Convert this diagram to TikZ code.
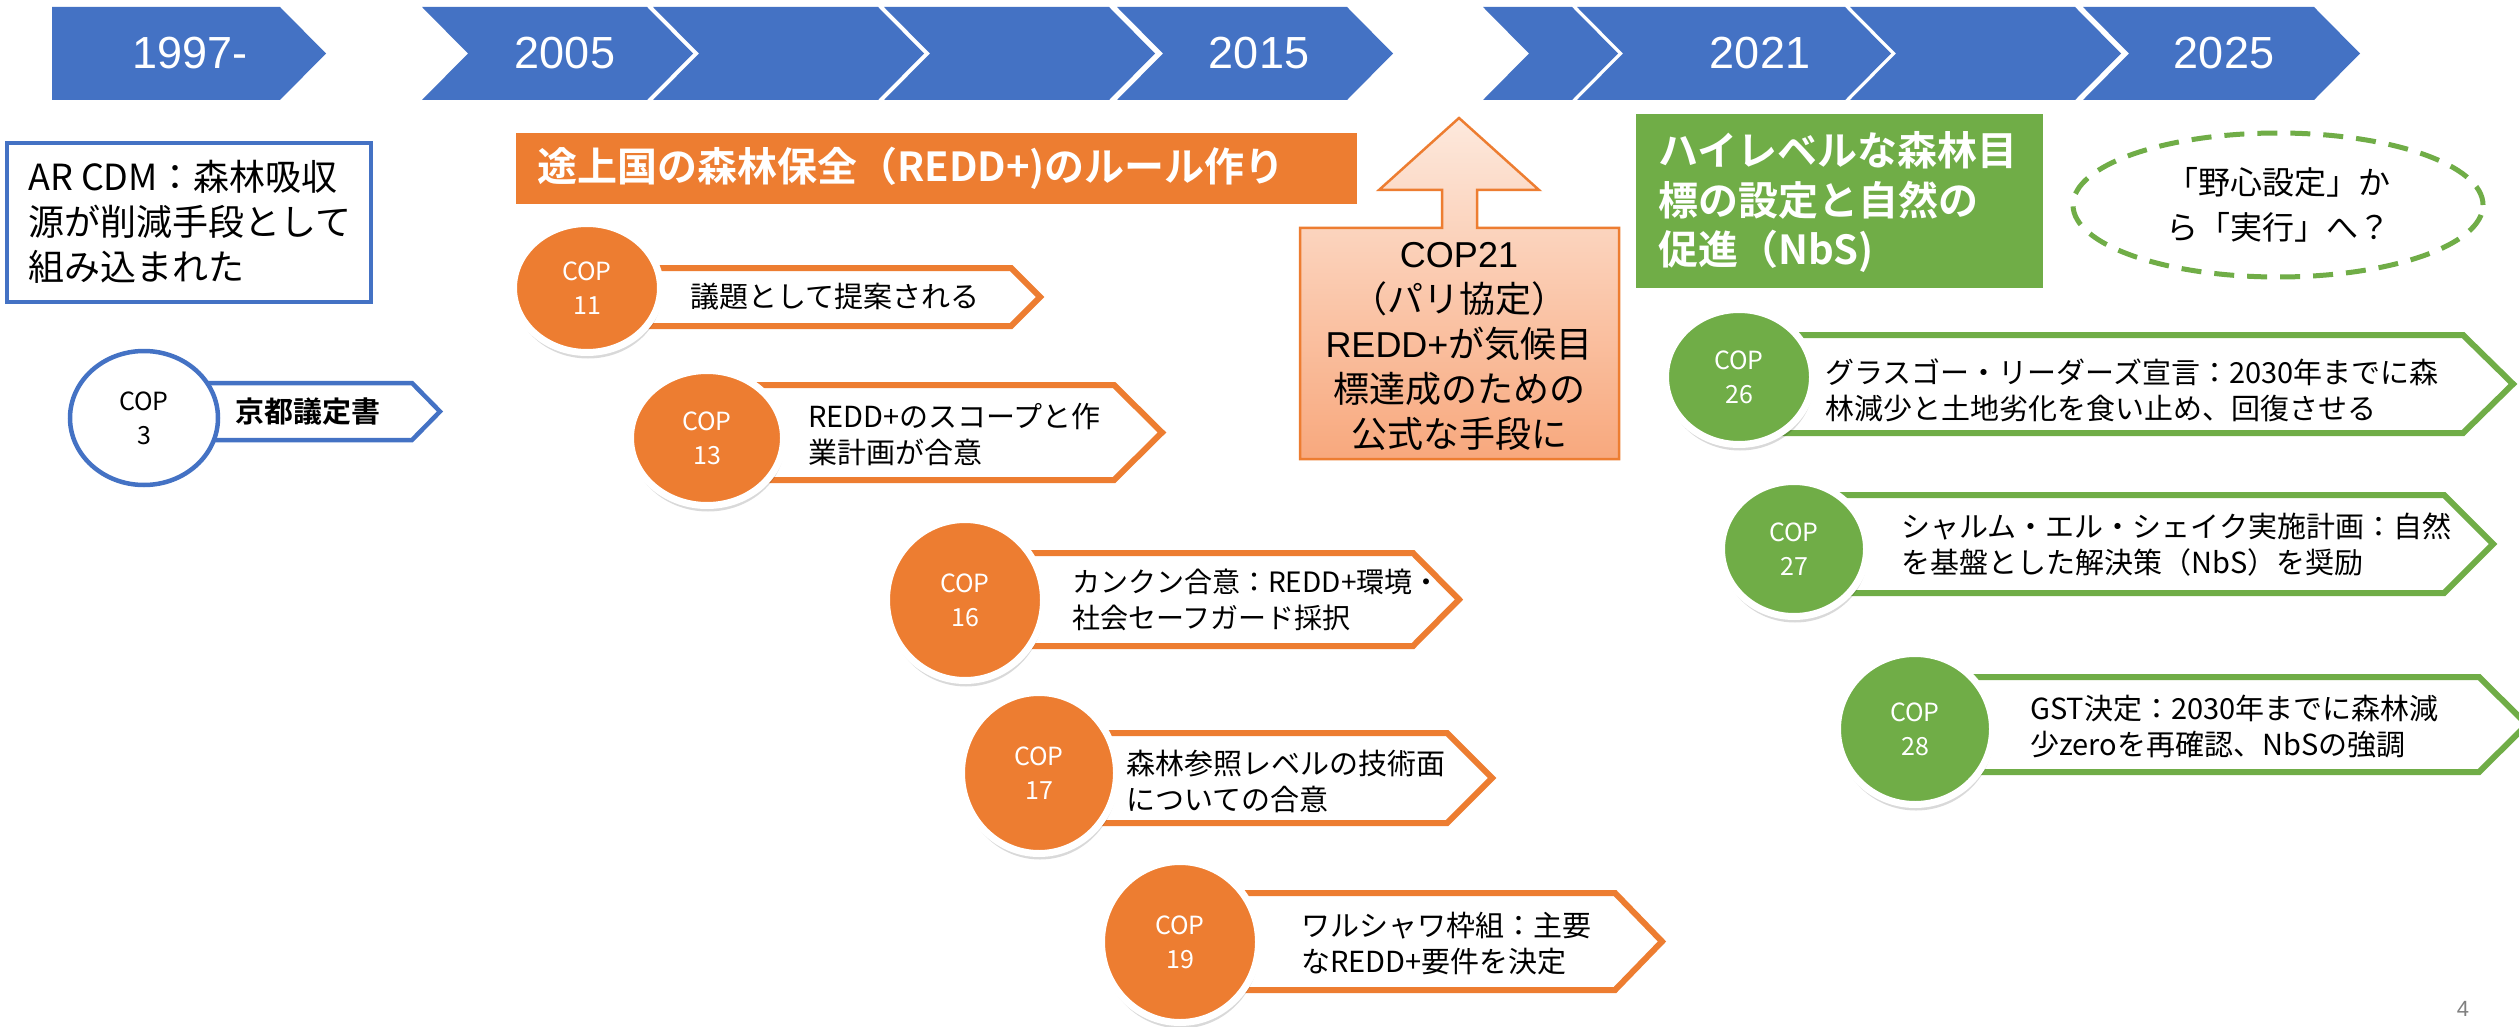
\documentclass[tikz,border=0pt]{standalone}
\usepackage{fontspec}
\setmainfont{Noto Sans CJK JP}[BoldFont={Noto Sans CJK JP Bold}]
\newfontfamily\lat{Liberation Sans}
\usetikzlibrary{shapes.geometric,shadows}
\definecolor{myblue}{HTML}{4472C4}
\definecolor{myorange}{HTML}{ED7D31}
\definecolor{mygreen}{HTML}{70AD47}
\definecolor{peachtop}{RGB}{253,233,221}
\definecolor{peachbot}{RGB}{248,168,125}
\newcommand\mychev[2]{\fill[myblue] (#1,7) -- (#2,7) -- ({#2+46},53.5) -- (#2,100) -- (#1,100) -- ({#1+46},53.5) -- cycle;}
\tikzset{
  yr/.style={text=white, font=\lat\fontsize{45}{54}\selectfont, inner sep=0pt},
  cshadow/.style={drop shadow={shadow xshift=1pt, shadow yshift=-6pt, opacity=0.15, fill=black}},
  ocirc/.style={ellipse, fill=myorange, draw=white, line width=7pt, text=white, font=\fontsize{25}{34}\selectfont, align=center, inner sep=0pt, cshadow},
  gcirc/.style={ellipse, fill=mygreen, draw=white, line width=7pt, text=white, font=\fontsize{25}{34}\selectfont, align=center, inner sep=0pt, cshadow},
  oarr/.style={fill=white, draw=myorange, line width=6pt, line join=miter},
  garr/.style={fill=white, draw=mygreen, line width=6pt, line join=miter},
  atext/.style={anchor=west, align=left, font=\fontsize{29}{36}\selectfont, inner sep=0pt},
}
\begin{document}
\begin{tikzpicture}[x=1pt,y=-1pt]
\fill[white] (0,0) rectangle (2519,1027);
\useasboundingbox (0,0) rectangle (2519,1027);

% timeline chevrons
\fill[myblue] (52,7) -- (280,7) -- (326,53.5) -- (280,100) -- (52,100) -- cycle;
\mychev{422}{647}
\mychev{653}{878}
\mychev{884}{1109}
\mychev{1117}{1347}
\mychev{1483}{1572}
\mychev{1577}{1845}
\mychev{1850}{2075}
\mychev{2083}{2314}
\node[yr] (y1997) at (190,53.5) {1997-};
\node[yr] (y2005) at (565,53.5) {2005};
\node[yr] (y2015) at (1259,53.5) {2015};
\node[yr] (y2021) at (1760,53.5) {2021};
\node[yr] (y2025) at (2224,53.5) {2025};

% left box
\draw[myblue, line width=4.5pt] (7,143) rectangle (371,302);
\node[anchor=west, align=left, inner sep=0pt, font=\fontsize{36}{45}\selectfont] (ardm) at (28,222)
  {AR CDM：森林吸収\\源が削減手段として\\組み込まれた};

% COP3
\draw[fill=white, draw=myblue, line width=4.5pt, line join=miter] (150,383) -- (412,383) -- (440,411.5) -- (412,440) -- (150,440) -- cycle;
\node[ellipse, fill=white, draw=myblue, line width=4.5pt, minimum width=148pt, minimum height=134pt, inner sep=0pt, align=center, font=\fontsize{25}{34}\selectfont] (cop3) at (144,418) {COP\\3};
\node[atext, font=\bfseries\fontsize{29}{36}\selectfont] (t3) at (235,412) {京都議定書};

% orange heading
\fill[myorange] (516,133) rectangle (1357,204);
\node[anchor=west, inner sep=0pt, text=white, font=\bfseries\fontsize{40}{50}\selectfont] (redd) at (537,168.5) {途上国の森林保全（REDD+)のルール作り};

% orange items
\draw[oarr] (587,268) -- (1011,268) -- (1040,297) -- (1011,326) -- (587,326) -- cycle;
\node[ocirc, minimum width=147pt, minimum height=129pt] (cop11) at (587,288) {COP\\11};
\node[atext] (t11) at (690,297) {議題として提案される};

\draw[oarr] (707,385) -- (1114,385) -- (1162,432.5) -- (1114,480) -- (707,480) -- cycle;
\node[ocirc, minimum width=153pt, minimum height=135pt] (cop13) at (707,438) {COP\\13};
\node[atext] (t13) at (808,435) {REDD+のスコープと作\\業計画が合意};

\draw[oarr] (965,553) -- (1413,553) -- (1459,599.5) -- (1413,646) -- (965,646) -- cycle;
\node[ocirc, minimum width=157pt, minimum height=161pt] (cop16) at (965,600) {COP\\16};
\node[atext, font=\fontsize{28}{36}\selectfont] (t16) at (1072,600) {カンクン合意：REDD+環境・\\社会セーフガード採択};

\draw[oarr] (1039,733) -- (1447,733) -- (1492,778) -- (1447,823) -- (1039,823) -- cycle;
\node[ocirc, minimum width=155pt, minimum height=161pt] (cop17) at (1039,773) {COP\\17};
\node[atext] (t17) at (1126,781) {森林参照レベルの技術面\\についての合意};

\draw[oarr] (1180,893) -- (1615,893) -- (1662,941.5) -- (1615,990) -- (1180,990) -- cycle;
\node[ocirc, minimum width=157pt, minimum height=161pt] (cop19) at (1180,942) {COP\\19};
\node[atext] (t19) at (1301,944) {ワルシャワ枠組：主要\\なREDD+要件を決定};

% COP21 callout
\draw[top color=peachtop, bottom color=peachbot, draw=myorange, line width=2.5pt, line join=miter]
  (1300,228) -- (1442,228) -- (1442,190) -- (1379,190) -- (1459,118) -- (1539,190) -- (1477,190) -- (1477,228)
  -- (1619,228) -- (1619,459) -- (1300,459) -- cycle;
\node[align=center, inner sep=0pt, font=\fontsize{36}{45}\selectfont] (cop21) at (1459,346)
  {{\lat COP21}\\（パリ協定）\\{\lat REDD+}が気候目\\標達成のための\\公式な手段に};

% green heading
\fill[mygreen] (1636,114) rectangle (2043,288);
\node[anchor=west, align=left, inner sep=0pt, text=white, font=\bfseries\fontsize{40}{50}\selectfont] (nbs) at (1658,202)
  {ハイレベルな森林目\\標の設定と自然の\\促進（NbS)};

% dashed ellipse
\node[ellipse, draw=mygreen, line width=5pt, dash pattern=on 20pt off 13pt, minimum width=410pt, minimum height=144pt, inner sep=0pt, align=center, font=\fontsize{32}{45}\selectfont] (goal) at (2278,205)
  {「野心設定」か\\ら「実行」へ？};

% green items
\draw[garr] (1739,335) -- (2463,335) -- (2513,384) -- (2463,433) -- (1739,433) -- cycle;
\node[gcirc, minimum width=147pt, minimum height=135pt] (cop26) at (1739,377) {COP\\26};
\node[atext] (t26) at (1825,390) {グラスゴー・リーダーズ宣言：2030年までに森\\林減少と土地劣化を食い止め、回復させる};

\draw[garr] (1794,495) -- (2444,495) -- (2493,544) -- (2444,593) -- (1794,593) -- cycle;
\node[gcirc, minimum width=145pt, minimum height=135pt] (cop27) at (1794,549) {COP\\27};
\node[atext] (t27) at (1901,545) {シャルム・エル・シェイク実施計画：自然\\を基盤とした解決策（NbS）を奨励};

\draw[garr] (1915,677) -- (2479,677) -- (2527,724.5) -- (2479,772) -- (1915,772) -- cycle;
\node[gcirc, minimum width=155pt, minimum height=151pt] (cop28) at (1915,729) {COP\\28};
\node[atext] (t28) at (2030,727) {GST決定：2030年までに森林減\\少zeroを再確認、NbSの強調};

% page number
\node[text=gray, font=\lat\fontsize{22}{26}\selectfont] (pg) at (2463,1009) {4};
\end{tikzpicture}
\end{document}
